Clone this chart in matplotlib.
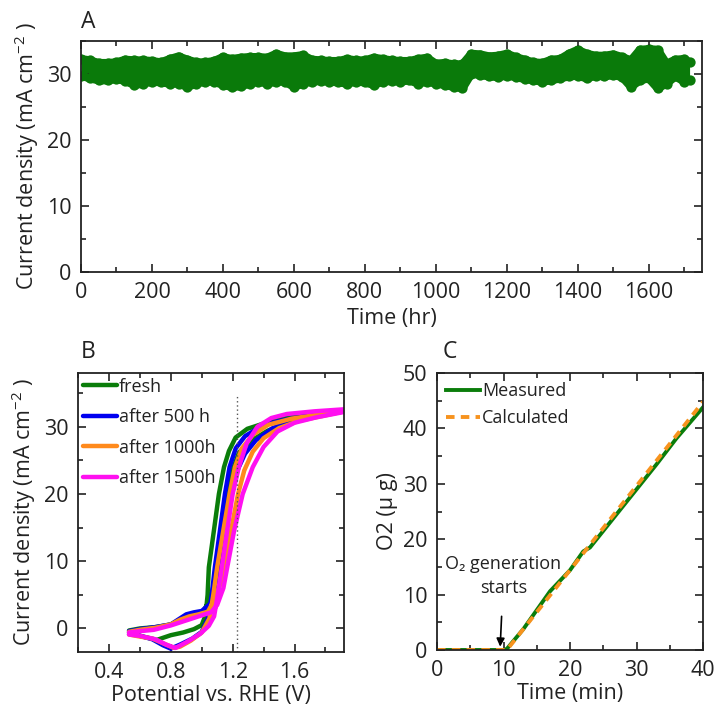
import numpy as np
import matplotlib
matplotlib.use('Agg')
import matplotlib.pyplot as plt
from matplotlib.ticker import MultipleLocator

plt.rcParams['font.family'] = ['Open Sans', 'DejaVu Sans']
plt.rcParams['mathtext.fontset'] = 'custom'
plt.rcParams['mathtext.rm'] = 'Open Sans'
plt.rcParams['mathtext.it'] = 'Open Sans'
plt.rcParams['text.color'] = '#222222'
plt.rcParams['axes.labelcolor'] = '#222222'
plt.rcParams['xtick.color'] = '#222222'
plt.rcParams['ytick.color'] = '#222222'

# ================= A: stability at constant potential =================
# envelope of the (very dense) data band, read every 25 h
time_hr = list(range(0, 1701, 25)) + [1715]
band_upper = [32.8, 32.6, 32.2, 32.2, 32.3, 32.7, 32.6, 32.6, 32.5, 32.3,
              32.8, 33.2, 32.7, 32.3, 32.3, 32.5, 33.1, 32.8, 33.0, 33.1,
              33.1, 33.0, 33.6, 33.2, 33.2, 33.4, 32.7, 32.6, 32.5, 32.5,
              32.8, 32.6, 32.6, 33.0, 32.8, 32.6, 32.5, 32.5, 32.8, 33.0,
              32.1, 32.2, 32.0, 32.0, 33.6, 33.5, 33.2, 33.3, 33.6, 33.1,
              32.7, 32.3, 32.2, 32.7, 32.8, 33.6, 34.2, 33.6, 33.3, 33.3,
              33.5, 33.1, 32.6, 34.2, 34.3, 34.2, 32.1, 32.7, 32.8, 32.3]
band_lower = [29.2, 28.8, 28.5, 28.5, 28.7, 28.4, 27.8, 28.0, 28.3, 28.2,
              28.0, 28.0, 27.5, 28.0, 28.3, 28.3, 27.8, 27.5, 27.6, 28.0,
              28.3, 28.0, 28.3, 28.3, 27.5, 28.0, 28.3, 28.4, 28.3, 28.2,
              28.0, 28.3, 28.2, 27.8, 28.3, 28.4, 28.3, 28.5, 28.0, 28.3,
              28.0, 27.8, 27.5, 27.3, 29.5, 29.3, 29.1, 29.0, 29.2, 29.0,
              28.7, 28.5, 28.3, 28.5, 28.8, 29.1, 29.2, 28.8, 29.2, 29.1,
              29.3, 29.0, 27.5, 28.5, 28.8, 27.3, 28.0, 29.1, 28.3, 28.5]

# ================= B: polarization loops (forward + reverse scan) =================
fresh_E = [0.53, 0.60, 0.70, 0.80, 0.88, 0.96, 1.01, 1.06, 1.10, 1.133, 1.165, 1.198, 1.241, 1.317, 1.425, 1.555, 1.728, 1.92,
           1.92, 1.728, 1.512, 1.403, 1.295, 1.219, 1.176, 1.144, 1.111, 1.079, 1.046, 1.038, 1.025, 1.00, 0.95, 0.88, 0.80, 0.71, 0.62, 0.53]
fresh_j = [-0.3, 0.0, 0.2, 0.6, 1.4, 2.2, 2.6, 4.5, 9.1, 14.6, 20.0, 23.5, 26.2, 27.9, 29.4, 30.7, 31.6, 32.3,
           32.4, 31.9, 31.2, 30.5, 29.7, 28.4, 26.4, 24.0, 20.0, 14.6, 9.1, 5.0, 2.0, 0.5, -0.1, -0.6, -1.0, -1.7, -1.2, -0.6]

h500_E = [0.53, 0.60, 0.70, 0.80, 0.86, 0.90, 0.95, 1.00, 1.06, 1.10, 1.125, 1.158, 1.195, 1.23, 1.28, 1.35, 1.46, 1.60, 1.75, 1.92,
          1.92, 1.73, 1.55, 1.40, 1.28, 1.22, 1.18, 1.15, 1.118, 1.085, 1.065, 1.04, 1.00, 0.94, 0.86, 0.80, 0.75, 0.68, 0.60, 0.53]
h500_j = [-0.4, -0.1, 0.2, 0.6, 1.5, 2.1, 2.4, 2.6, 3.8, 6.5, 9.1, 14.6, 20.0, 23.5, 26.0, 28.0, 29.8, 30.9, 31.6, 32.3,
          32.3, 31.8, 31.1, 30.3, 28.6, 26.8, 24.0, 20.0, 14.6, 9.1, 5.0, 1.5, -0.5, -1.5, -2.4, -3.0, -2.5, -1.6, -1.1, -0.8]

h1000_E = [0.53, 0.60, 0.70, 0.80, 0.86, 0.92, 0.98, 1.04, 1.10, 1.15, 1.19, 1.235, 1.275, 1.33, 1.40, 1.50, 1.63, 1.78, 1.92,
           1.92, 1.75, 1.58, 1.43, 1.33, 1.26, 1.215, 1.18, 1.14, 1.10, 1.075, 1.05, 1.00, 0.93, 0.86, 0.82, 0.76, 0.68, 0.60, 0.53]
h1000_j = [-0.5, -0.2, 0.1, 0.6, 1.3, 1.8, 2.1, 2.5, 5.0, 9.1, 14.6, 20.0, 23.5, 26.3, 28.3, 29.8, 30.9, 31.6, 32.3,
           32.3, 31.8, 31.2, 30.3, 28.8, 26.8, 24.0, 20.0, 14.6, 9.1, 5.0, 1.5, -0.6, -1.8, -2.7, -2.9, -2.3, -1.5, -1.2, -0.9]

h1500_E = [0.53, 0.60, 0.69, 0.80, 0.90, 1.00, 1.06, 1.10, 1.14, 1.165, 1.21, 1.265, 1.33, 1.40, 1.49, 1.60, 1.74, 1.92,
           1.92, 1.73, 1.55, 1.45, 1.36, 1.29, 1.24, 1.20, 1.165, 1.13, 1.10, 1.08, 1.046, 0.99, 0.905, 0.83, 0.77, 0.70, 0.60, 0.53]
h1500_j = [-0.6, -0.4, -0.2, 0.45, 1.2, 1.95, 2.4, 3.5, 6.0, 9.1, 14.6, 20.0, 24.0, 27.0, 29.3, 30.6, 31.4, 32.2,
           32.6, 32.3, 31.9, 31.3, 30.0, 27.5, 24.0, 20.0, 14.6, 9.1, 4.5, 1.8, 0.4, -0.8, -2.0, -2.9, -2.4, -1.6, -1.1, -0.9]

loop_labels = ['fresh', 'after 500 h', 'after 1000h', 'after 1500h']
loop_colors = ['#0a7d0a', '#0000f0', '#ff8a1c', '#ff10f0']
E_rev = 1.23

# ================= C: O2 evolution =================
meas_t = [0, 5, 10, 10.5, 13, 16, 17, 20, 22, 23, 26, 30, 33, 36, 40]
meas_o2 = [0, 0, 0, 0.2, 3.8, 8.9, 10.6, 14.4, 17.8, 18.5, 23.0, 29.0, 33.5, 38.2, 43.8]
calc_t = [0, 10.5, 40]
calc_o2 = [0, 0, 44.8]

W, H = 714, 707
fig = plt.figure(figsize=(W / 100, H / 100), dpi=100)
FS = 15.5
LFS = 13


def style(ax):
    for s in ax.spines.values():
        s.set_linewidth(1.3)
        s.set_color('#222222')
    ax.tick_params(which='both', direction='in', top=True, right=True, width=1.2, labelsize=FS, pad=7)
    ax.tick_params(which='major', length=6)
    ax.tick_params(which='minor', length=3.5)


def rect(l, t, r, b):
    return [l / W, 1 - b / H, (r - l) / W, (b - t) / H]


# ---- A
axA = fig.add_axes(rect(81, 41, 702, 272))
green = '#0a7a0a'
t = np.array(time_hr, dtype=float)
up = np.array(band_upper) - 0.55
lo = np.array(band_lower) + 0.55
axA.fill_between(t, lo, up, color=green, lw=0)
for edge in (up, lo):
    axA.plot(t, edge, color=green, lw=6, solid_joinstyle='round', solid_capstyle='round')
    axA.scatter(t, edge, s=55, color=green, lw=0)
axA.set_xlim(0, 1750)
axA.set_ylim(0, 35)
axA.xaxis.set_major_locator(MultipleLocator(200))
axA.xaxis.set_minor_locator(MultipleLocator(100))
axA.yaxis.set_major_locator(MultipleLocator(10))
axA.yaxis.set_minor_locator(MultipleLocator(5))
style(axA)
axA.set_xlabel('Time (hr)', fontsize=FS, labelpad=4)
axA.set_ylabel('Current density (mA cm$^{-2}$ )', fontsize=FS, labelpad=4)
fig.text(81 / W, 1 - 22 / H, 'A', fontsize=FS + 1, ha='left', va='center')

# ---- B
axB = fig.add_axes(rect(78, 373, 344, 652))
loops = [(fresh_E, fresh_j), (h500_E, h500_j), (h1000_E, h1000_j), (h1500_E, h1500_j)]
for (E, j), lab, c in zip(loops, loop_labels, loop_colors):
    axB.plot(E, j, color=c, lw=3.2, label=lab, solid_joinstyle='round', solid_capstyle='round')
axB.vlines(E_rev, -3.5, 34.8, colors='#555555', linestyles=(0, (1, 2)), lw=1.0)
axB.set_xlim(0.2, 1.92)
axB.set_ylim(-3.5, 38)
axB.xaxis.set_minor_locator(MultipleLocator(0.2))
axB.yaxis.set_major_locator(MultipleLocator(10))
axB.yaxis.set_minor_locator(MultipleLocator(5))
axB.set_xticks([0.4, 0.8, 1.2, 1.6])
axB.set_xticklabels(['0.4', '0.8', '1.2', '1.6'])
style(axB)
axB.set_xlabel('Potential vs. RHE (V)', fontsize=FS, labelpad=1.5)
axB.set_ylabel('Current density (mA cm$^{-2}$ )', fontsize=FS, labelpad=4)
axB.legend(loc='upper left', frameon=False, fontsize=LFS, handlelength=1.9, handletextpad=0.1,
           labelspacing=0.7, borderaxespad=0.0, borderpad=0.25)
fig.text(81 / W, 1 - 352 / H, 'B', fontsize=FS + 1, ha='left', va='center')

# ---- C
axC = fig.add_axes(rect(437, 373, 703, 650))
axC.plot(meas_t, meas_o2, color='#0a7d0a', lw=2.8, label='Measured')
axC.plot(calc_t, calc_o2, color='#f7931e', lw=2.8, ls=(0, (2.2, 1.6)), label='Calculated')
axC.set_xlim(0, 40)
axC.set_ylim(0, 50)
axC.xaxis.set_major_locator(MultipleLocator(10))
axC.xaxis.set_minor_locator(MultipleLocator(5))
axC.yaxis.set_major_locator(MultipleLocator(10))
axC.yaxis.set_minor_locator(MultipleLocator(5))
style(axC)
axC.set_xlabel('Time (min)', fontsize=FS, labelpad=1.5)
axC.set_ylabel('O2 (µ g)', fontsize=FS, labelpad=3)
axC.legend(loc='upper left', frameon=False, fontsize=LFS, handlelength=1.9, handletextpad=0.1,
           labelspacing=0.5, borderaxespad=0.2, borderpad=0.3)
axC.annotate('O₂ generation\nstarts', xy=(9.5, 0.6), xytext=(10, 13.4), ha='center', va='center',
             fontsize=LFS, linespacing=1.45,
             arrowprops=dict(arrowstyle='-|>', color='black', lw=1.2, mutation_scale=12, shrinkA=12, shrinkB=0))
fig.text(443 / W, 1 - 352 / H, 'C', fontsize=FS + 1, ha='left', va='center')

fig.savefig('out.png', dpi=100, facecolor='white')
